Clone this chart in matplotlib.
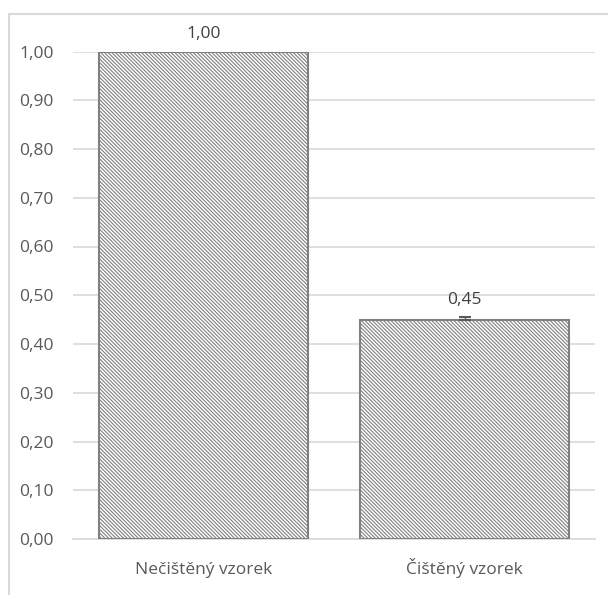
import matplotlib.pyplot as plt
from matplotlib.patches import Rectangle
from matplotlib.ticker import FuncFormatter
import matplotlib as mpl

# === DATA ===
categories = ['Nečištěný vzorek', 'Čištěný vzorek']
values = [1.00, 0.45]
errors = [0.0, 0.006]
yticks = [0.0, 0.1, 0.2, 0.3, 0.4, 0.5, 0.6, 0.7, 0.8, 0.9, 1.0]

plt.rcParams['font.family'] = ['Open Sans', 'DejaVu Sans']
mpl.rcParams['hatch.color'] = '#a6a6a6'
mpl.rcParams['hatch.linewidth'] = 0.8

def comma(v, pos=None):
    return f'{v:.2f}'.replace('.', ',')

fig = plt.figure(figsize=(6.08, 5.95), dpi=100)
# light outer frame of the chart area (runs off the right and bottom edge)
fig.patches.append(Rectangle((8.5 / 608, -0.05), 1.1, 1 - 14 / 595 + 0.05,
                             transform=fig.transFigure, fill=False,
                             edgecolor='#d9d9d9', linewidth=1.5))

ax = fig.add_axes([73 / 608, 56 / 595, 522 / 608, 487.5 / 595])
x = list(range(len(categories)))
ax.bar(x, values, width=0.80, color='white', edgecolor='#808080',
       linewidth=1.5, hatch='\\' * 9, zorder=3)

# small error bar only where there is one
for xi, v, e in zip(x, values, errors):
    if e > 0:
        ax.errorbar(xi, v, yerr=[[0], [e]], fmt='none', ecolor='#595959',
                    elinewidth=1, capsize=4, capthick=1.5, zorder=4)

ax.set_xlim(-0.5, 1.5)
ax.set_ylim(0, 1.0)
ax.set_yticks(yticks)
ax.yaxis.set_major_formatter(FuncFormatter(comma))
ax.set_xticks(x)
ax.set_xticklabels([])
ax.tick_params(length=0, labelsize=12.5, colors='#595959')
ax.tick_params(axis='y', pad=14)
ax.grid(axis='y', color='#d9d9d9', linewidth=1.2, zorder=0)
for s in ['top', 'right', 'left']:
    ax.spines[s].set_visible(False)
ax.spines['bottom'].set_color('#d9d9d9')
ax.spines['bottom'].set_linewidth(1.2)

# category names on a common baseline
for xi, name in zip(x, categories):
    ax.annotate(name, (xi, 0), xytext=(0, -25), textcoords='offset points',
                ha='center', va='baseline', fontsize=12.5, color='#595959')

for xi, v, e in zip(x, values, errors):
    ax.annotate(comma(v), (xi, v + e), xytext=(0, 9.5),
                textcoords='offset points', ha='center', va='baseline',
                fontsize=12.5, color='#404040', zorder=5)

fig.savefig('out.png', dpi=100)
